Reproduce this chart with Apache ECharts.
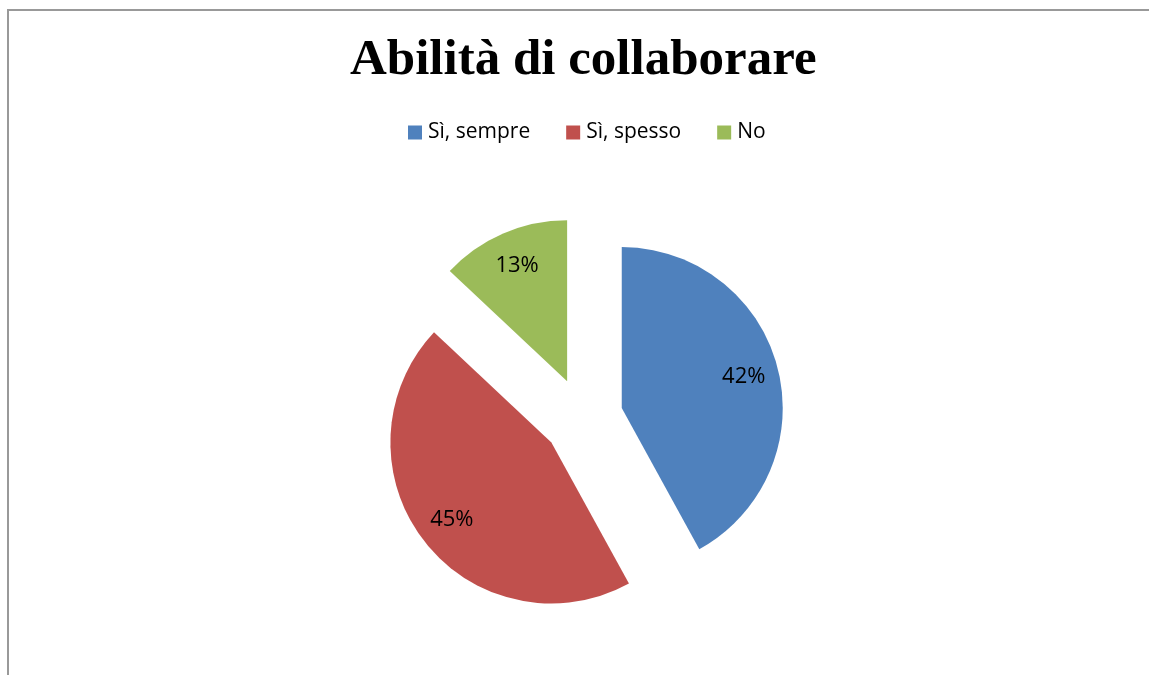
<!DOCTYPE html>
<html lang="it">
<head>
    <meta charset="UTF-8">
    <title>Abilità di collaborare</title>
    <script src="https://cdn.jsdelivr.net/npm/echarts@6/dist/echarts.min.js"></script>
    <style>
        html, body { margin: 0; padding: 0; background: #fff; }
    </style>
</head>
<body>
<div id="main" style="width: 1149px;height:675px;"></div>
<script type="text/javascript">
    // categorie e valori
    var categories = ["Sì, sempre", "Sì, spesso", "No"];
    var values = [42, 45, 13];
    var colors = ["#4F81BD", "#C0504D", "#9BBB59"];

    var pieData = categories.map(function (name, i) {
        return { name: name, value: values[i], selected: true, itemStyle: { color: colors[i] } };
    });
    // serie trasparente solo per le etichette (più lontane dal centro)
    var labelData = categories.map(function (name, i) {
        return { name: name, value: values[i], selected: true };
    });

    var myChart = echarts.init(document.getElementById('main'));
    myChart.setOption({
        animation: false,
        title: {
            text: "Abilità di collaborare",
            left: 345,
            top: 30,
            textStyle: {
                fontFamily: 'Liberation Serif',
                fontWeight: 'bold',
                fontSize: 51,
                color: '#000'
            }
        },
        legend: {
            data: categories,
            left: 403,
            top: 117,
            icon: 'rect',
            itemWidth: 14,
            itemHeight: 14,
            itemGap: 36,
            selectedMode: false,
            textStyle: {
                fontFamily: 'Open Sans',
                fontSize: 21,
                color: '#000',
                padding: [0, 0, 0, 1]
            }
        },
        graphic: [{
            type: 'rect',
            shape: { x: 8, y: 10, width: 1300, height: 800 },
            style: { fill: 'none', stroke: '#999', lineWidth: 2 },
            silent: true
        }],
        series: [
            {
                name: "Abilità di collaborare",
                type: 'pie',
                center: [583, 418],
                radius: [0, 161],
                startAngle: 90,
                clockwise: true,
                selectedMode: 'multiple',
                selectedOffset: 40,
                label: { show: false },
                labelLine: { show: false },
                emphasis: { disabled: true },
                silent: true,
                data: pieData
            },
            {
                name: "etichette",
                type: 'pie',
                center: [583, 418],
                radius: [0, 246],
                startAngle: 90,
                clockwise: true,
                selectedMode: 'multiple',
                selectedOffset: 40,
                silent: true,
                itemStyle: { color: 'rgba(0,0,0,0)' },
                emphasis: { disabled: true },
                label: {
                    show: true,
                    position: 'inside',
                    formatter: '{d}%',
                    fontFamily: 'Open Sans',
                    fontSize: 22,
                    color: '#000'
                },
                labelLine: { show: false },
                data: labelData
            }
        ]
    });
</script>
</body>
</html>
